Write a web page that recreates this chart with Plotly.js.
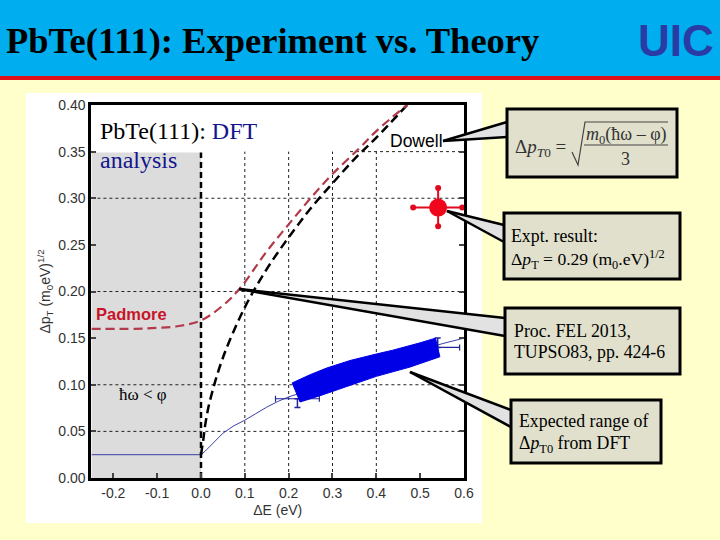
<!DOCTYPE html>
<html><head><meta charset="utf-8">
<script src="https://cdn.plot.ly/plotly-3.0.1.min.js"></script>
<style>html,body{margin:0;padding:0;background:#FFFFCC}</style></head>
<body><div id="chart" style="width:720px;height:540px"></div>
<script>
const dowellX=[0,0.005,0.01,0.02,0.05,0.1,0.15,0.2,0.25,0.3,0.35,0.4,0.47];
const dowellY=[0.025,0.04,0.058,0.082,0.129,0.183,0.224,0.258,0.289,0.316,0.342,0.365,0.4];
const padmoreX=[-0.25,-0.15,-0.1,-0.05,0,0.05,0.09,0.15,0.2,0.25,0.3,0.36,0.4,0.475];
const padmoreY=[0.16,0.16,0.161,0.163,0.169,0.185,0.204,0.243,0.272,0.3,0.326,0.353,0.372,0.402];
const dftX=[-0.25,-0.1,0,0.01,0.02,0.03,0.05,0.075,0.1,0.125,0.15,0.175,0.2,0.22,0.3,0.4,0.5,0.55,0.6];
const dftY=[0.025,0.025,0.025,0.029,0.034,0.039,0.048,0.056,0.062,0.069,0.076,0.082,0.087,0.09,0.104,0.121,0.137,0.144,0.15];
const bandX=[0.208,0.25,0.287,0.34,0.4,0.437,0.5,0.535,0.545,0.477,0.4,0.324,0.27,0.226,0.208];
const bandY=[0.102,0.111,0.118,0.126,0.133,0.137,0.145,0.15,0.13,0.119,0.109,0.0966,0.088,0.0815,0.102];
const errX=[0.22,0.54];
const errY=[0.085,0.14];
const errXPlus=[0.05,0.05];
const errXMinus=[0.05,0];
const errYPlus=[0,0.01];
const errYMinus=[0.0095,0];
const exptX=[0.541];
const exptY=[0.29];
const exptHX=[0.484,0.596];
const exptVY=[0.27,0.311];
const xTicks=[-0.2,-0.1,0,0.1,0.2,0.3,0.4,0.5,0.6];
const xLabels=['-0.2','-0.1','0.0','0.1','0.2','0.3','0.4','0.5','0.6'];
const yTicks=[0,0.05,0.1,0.15,0.2,0.25,0.3,0.35,0.4];
const yLabels=['0.00','0.05','0.10','0.15','0.20','0.25','0.30','0.35','0.40'];
const gridXVals=[0.1,0.2,0.3,0.4];
const gridYVals=[0.05,0.1,0.2,0.3,0.35];

const W=720,H=540;
const px=x=>x/W, py=y=>1-y/H;
const pp=(pts,close)=>'M'+pts.map(p=>px(p[0]).toFixed(5)+','+py(p[1]).toFixed(5)).join(' L')+(close?' Z':'');
const paperRect=(x0,y0,x1,y1,fill,layer,line)=>({type:'rect',xref:'paper',yref:'paper',x0:px(x0),x1:px(x1),y0:py(y1),y1:py(y0),fillcolor:fill,layer:layer,line:line||{width:0}});
const poly=(pts,fill,w)=>({type:'path',xref:'paper',yref:'paper',path:pp(pts,!!fill),fillcolor:fill||'rgba(0,0,0,0)',layer:'above',line:{color:'#000',width:w}});
const edge=(a,b)=>({type:'line',xref:'paper',yref:'paper',x0:px(a[0]),y0:py(a[1]),x1:px(b[0]),y1:py(b[1]),layer:'above',line:{color:'#000',width:2.5}});
const callout=(tip,a,b)=>[poly([tip,a,b],'#E2E2E2',0),edge(tip,a),edge(tip,b)];
const box=(x0,y0,x1,y1)=>paperRect(x0,y0,x1,y1,'#E0E0CC','above',{color:'#000',width:3});

const shapes=[
 paperRect(0,0,720,76,'#00AEEF','below'),
 paperRect(0,76,720,80,'#E0101A','below'),
 paperRect(26,93,482,523,'#FFFFFF','below'),
 {type:'rect',xref:'x',yref:'y',x0:-0.25,x1:0,y0:0,y1:0.349,fillcolor:'#DCDCDC',layer:'below',line:{width:0}},
 ...gridXVals.map(v=>({type:'line',xref:'x',yref:'y',x0:v,x1:v,y0:0,y1:0.35,layer:'below',line:{color:'#222',width:1,dash:'dot'}})),
 ...gridYVals.map(v=>({type:'line',xref:'x',yref:'y',x0:v===0.35?0.34:-0.25,x1:0.6,y0:v,y1:v,layer:'below',line:{color:'#222',width:1,dash:'dot'}})),
 ...callout([443,141],[507,122],[507,137]),
 ...callout([447,211],[504,225],[504,242]),
 ...callout([239,289],[505,318],[505,336]),
 ...callout([410,372],[511,410],[511,427]),
 box(507,109,677,177), box(504,213,680,279), box(505,308,680,374), box(511,400,661,463),
 {type:'path',xref:'paper',yref:'paper',layer:'above',path:pp([[572,152],[578,165],[585,122],[668,122]]),line:{color:'#444',width:1.2}},
 {type:'line',xref:'paper',yref:'paper',layer:'above',x0:px(584),x1:px(668),y0:py(145),y1:py(145),line:{color:'#444',width:1.2}}
];

const SERIF='Liberation Serif, Times New Roman, serif', SANS='Liberation Sans, Arial, sans-serif';
const note=(x,y,text,size,color,family,anchor)=>({xref:'paper',yref:'paper',x:px(x),y:py(y),text:text,showarrow:false,xanchor:anchor||'left',yanchor:'middle',borderpad:0,font:{family:family||SERIF,size:size,color:color||'#000'}});
const annotations=[
 note(637,40,'<b>UIC</b>',44,'#2B3BA5',SANS),
 note(99,131,'PbTe(111): <span style="color:#14148C">DFT</span>',24),
 note(99,160,'analysis',24,'#14148C'),
 note(95,314,'<b>Padmore</b>',16.5,'#C8142A',SANS),
 note(389,141,'Dowell',17.5,'#000',SANS),
 note(118,394,'ħω &lt; φ',17),
 note(514,148,'Δ<i>p</i><sub><i>T</i>0</sub> =',19,'#333'),
 note(626,135,'<i>m</i><sub>0</sub>(ħω – φ)',18,'#333',SERIF,'center'),
 note(625,159,'3',18,'#333',SERIF,'center'),
 note(510,236,'Expt. result:',17.8),
 note(510,259,'Δ<i>p</i><sub>T</sub> = 0.29 (m<sub>0</sub>.eV)<sup>1/2</sup>',17.6),
 note(513,331,'Proc. FEL 2013,',17.8),
 note(513,352,'TUPSO83, pp. 424-6',17.8),
 note(518,421,'Expected range of',17.8),
 note(518,444,'Δ<i>p</i><sub>T0</sub> from DFT',17.8)
];

const traces=[
 {x:dftX,y:dftY,mode:'lines',line:{color:'#3A3FA8',width:1},hoverinfo:'skip'},
 {x:[0,0],y:[0,0.349],mode:'lines',line:{color:'#000',width:2.5,dash:'6px,4px'},hoverinfo:'skip'},
 {x:dowellX,y:dowellY,mode:'lines',line:{color:'#000',width:2.5,dash:'9px,5px',shape:'spline'},hoverinfo:'skip'},
 {x:padmoreX,y:padmoreY,mode:'lines',line:{color:'#B23A4A',width:2.2,dash:'9px,5px',shape:'spline'},hoverinfo:'skip'},
 {x:errX,y:errY,mode:'markers',marker:{size:1,color:'#22229A'},
  error_x:{type:'data',symmetric:false,array:errXPlus,arrayminus:errXMinus,color:'#22229A',thickness:1.2,width:3},
  error_y:{type:'data',symmetric:false,array:errYPlus,arrayminus:errYMinus,color:'#22229A',thickness:1.5,width:3},hoverinfo:'skip'},
 {x:bandX,y:bandY,mode:'lines',fill:'toself',fillcolor:'#0000E6',line:{color:'#0000E6',width:1},hoverinfo:'skip'},
 {x:exptHX,y:[exptY[0],exptY[0]],mode:'lines+markers',line:{color:'#E00A1E',width:2},marker:{size:6,color:'#E00A1E'},cliponaxis:false,hoverinfo:'skip'},
 {x:[exptX[0],exptX[0]],y:exptVY,mode:'lines+markers',line:{color:'#E00A1E',width:2},marker:{size:6,color:'#E00A1E'},hoverinfo:'skip'},
 {x:exptX,y:exptY,mode:'markers',marker:{size:18,color:'#F0061A'},hoverinfo:'skip'}
];

const axisBase={showgrid:false,zeroline:false,ticks:'inside',ticklen:5,tickwidth:2,tickcolor:'#444',showline:true,linecolor:'#000',linewidth:3,tickfont:{family:SANS,size:14,color:'#333'}};
const layout={
 width:W,height:H,margin:{l:0,r:0,t:0,b:0},autosize:false,showlegend:false,
 paper_bgcolor:'#FFFFCC',plot_bgcolor:'rgba(0,0,0,0)',
 title:{text:'<b>PbTe(111): Experiment vs. Theory</b>',x:px(6),y:py(40),xref:'paper',yref:'paper',xanchor:'left',yanchor:'middle',font:{family:SERIF,size:36.5,color:'#000'}},
 xaxis:{...axisBase,domain:[px(91.4),px(464)],range:[-0.25,0.6],tickvals:xTicks,ticktext:xLabels,mirror:true,
  title:{text:'ΔE (eV)',standoff:6,font:{family:SANS,size:14,color:'#333'}}},
 yaxis:{...axisBase,domain:[py(478),py(105)],range:[0,0.4],tickvals:yTicks,ticktext:yLabels,mirror:'ticks',
  title:{text:'Δp<sub>T</sub> (m<sub>0</sub>eV)<sup>1/2</sup>',standoff:5,font:{family:SANS,size:14,color:'#333'}}},
 shapes:shapes,annotations:annotations
};
Plotly.newPlot('chart',traces,layout,{displayModeBar:false});
</script></body></html>
